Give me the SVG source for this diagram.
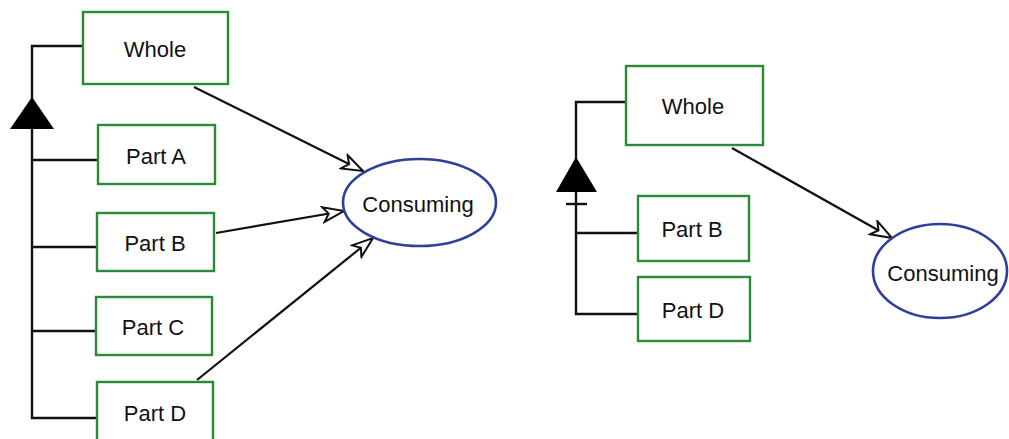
<svg xmlns="http://www.w3.org/2000/svg" width="1009" height="439" viewBox="0 0 1009 439">
<defs>
<style>
.box{fill:#fff;stroke:#2a8a3a;stroke-width:2.4}
.ell{fill:#fff;stroke:#2e3f9c;stroke-width:2.6}
.ln{fill:none;stroke:#111;stroke-width:2.4}
.arr{fill:none;stroke:#111;stroke-width:2.2;marker-end:url(#open)}
.t{font-family:"Liberation Sans",Arial,sans-serif;font-size:22px;fill:#111;text-anchor:middle;dominant-baseline:central}
</style>
<marker id="open" viewBox="0 0 24 18" refX="22.5" refY="9" markerWidth="24" markerHeight="18" markerUnits="userSpaceOnUse" orient="auto">
<path d="M1.5,1.5 L22.5,9 L1.5,16.5 L7,9 Z" fill="#fff" stroke="#111" stroke-width="2" stroke-linejoin="miter"/>
</marker>
</defs>
<rect width="1009" height="439" fill="#fff"/>
<g id="connectors">
<polyline class="ln" points="83,46 32,46 32,418 97,418"/>
<line class="ln" x1="32" y1="160" x2="98" y2="160"/>
<line class="ln" x1="32" y1="247" x2="97" y2="247"/>
<line class="ln" x1="32" y1="331" x2="96" y2="331"/>
<polygon points="32,97 10,129 54,129" fill="#000"/>
<line class="arr" x1="194" y1="87" x2="363" y2="171"/>
<line class="arr" x1="216" y1="233" x2="344" y2="211"/>
<line class="arr" x1="197" y1="380" x2="373" y2="238"/>
<polyline class="ln" points="626,102 576,102 576,314 638,314"/>
<line class="ln" x1="576" y1="233" x2="638" y2="233"/>
<polygon points="576,157 556,192 597,192" fill="#000"/>
<line class="ln" x1="566" y1="204" x2="587" y2="204"/>
<line class="arr" x1="732" y1="148" x2="892" y2="238"/>
</g>
<g id="whole-left"><rect class="box" x="83" y="12" width="145" height="72"/><text class="t" x="155" y="49">Whole</text></g>
<g id="partA-left"><rect class="box" x="98" y="125" width="117" height="59"/><text class="t" x="156" y="156">Part A</text></g>
<g id="partB-left"><rect class="box" x="97" y="213" width="117" height="58"/><text class="t" x="155" y="243">Part B</text></g>
<g id="partC-left"><rect class="box" x="96" y="297" width="116" height="58"/><text class="t" x="153" y="327">Part C</text></g>
<g id="partD-left"><rect class="box" x="97" y="382" width="116" height="60"/><text class="t" x="155" y="413">Part D</text></g>
<g id="consuming-left"><ellipse class="ell" cx="419.5" cy="202.5" rx="76.5" ry="43.5"/><text class="t" x="418" y="204">Consuming</text></g>
<g id="whole-right"><rect class="box" x="626" y="66" width="137" height="79"/><text class="t" x="693" y="106">Whole</text></g>
<g id="partB-right"><rect class="box" x="638" y="196" width="111" height="65"/><text class="t" x="692" y="229">Part B</text></g>
<g id="partD-right"><rect class="box" x="638" y="277" width="112" height="64"/><text class="t" x="693" y="310">Part D</text></g>
<g id="consuming-right"><ellipse class="ell" cx="940" cy="271" rx="67" ry="47"/><text class="t" x="943" y="273">Consuming</text></g>
</svg>
